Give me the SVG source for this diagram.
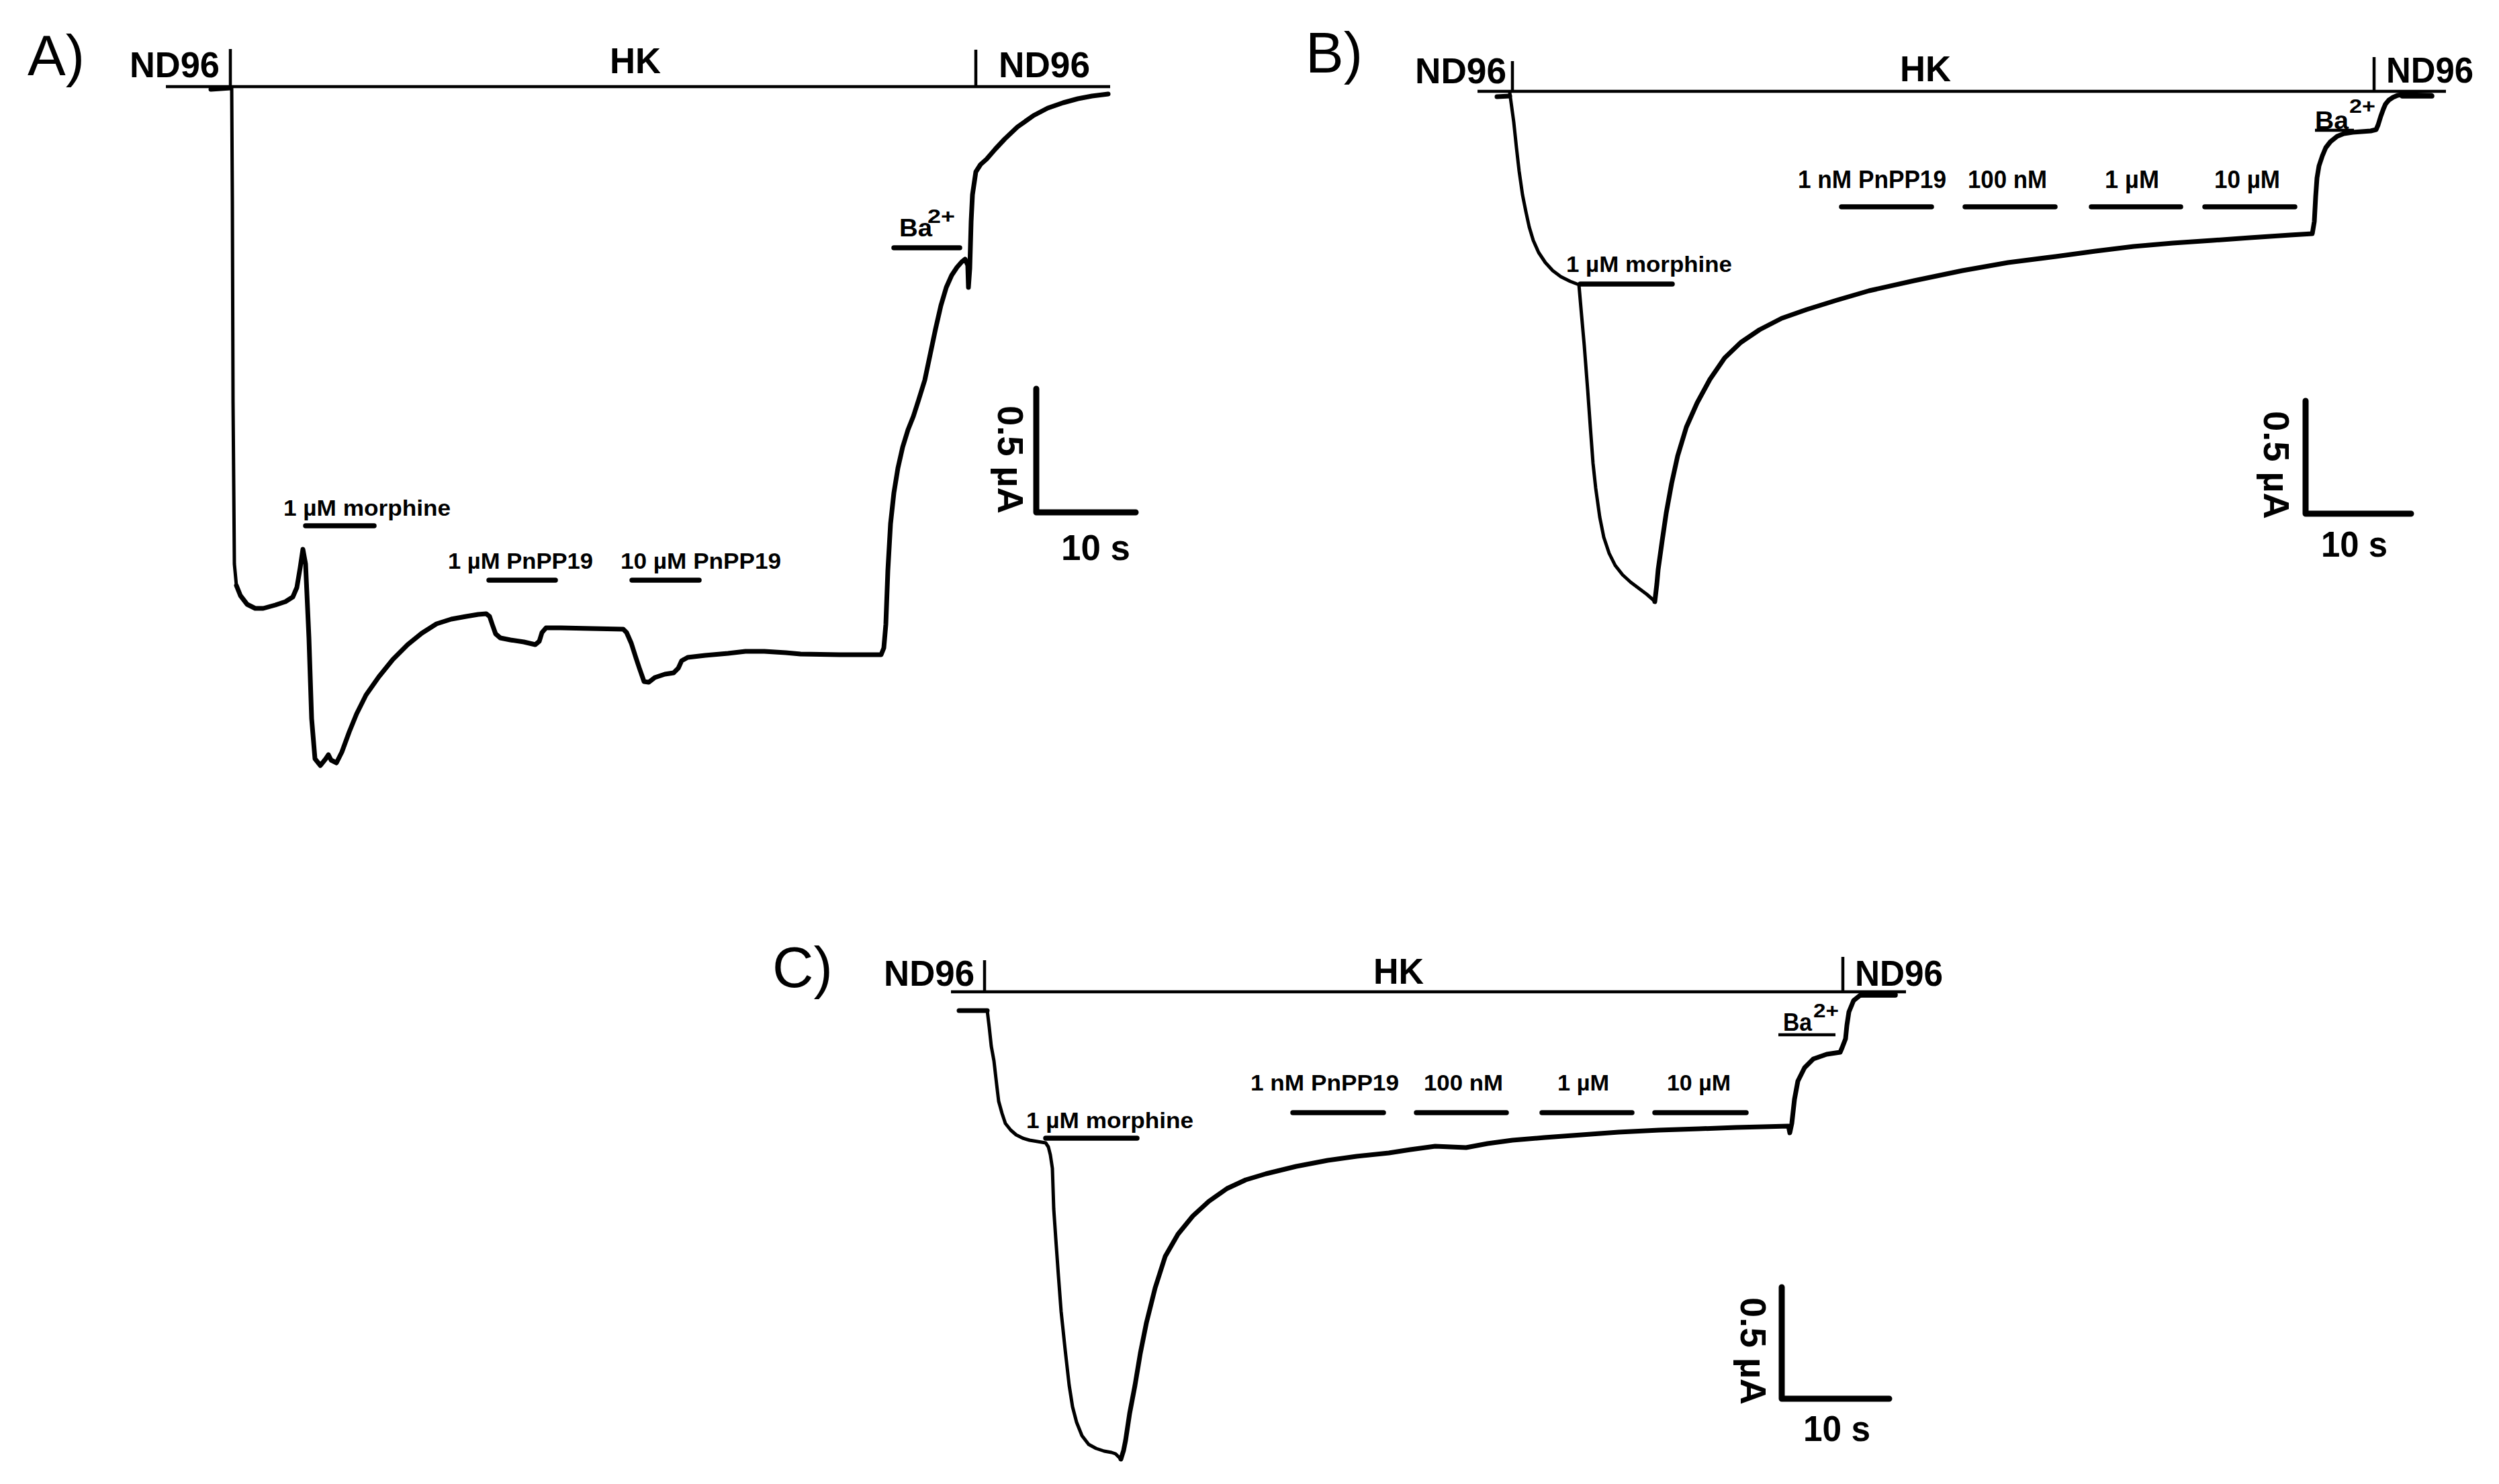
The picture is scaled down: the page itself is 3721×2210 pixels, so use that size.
<svg xmlns="http://www.w3.org/2000/svg" width="3721" height="2210" viewBox="0 0 3721 2210">
<style>
.t{font-family:"Liberation Sans",Arial,sans-serif;font-weight:bold;fill:#000}
.big{font-size:54px}
.sm{font-size:33px}
.smb{font-size:37px}
.ba{font-size:37px}
.sup{font-size:30px}
.pl{font-family:"Liberation Sans",Arial,sans-serif;font-weight:normal;font-size:85px;fill:#000}
.ln{stroke:#000;stroke-width:4.5;fill:none}
.bar{stroke:#000;stroke-width:7.5;stroke-linecap:round;fill:none}
.tr{stroke:#000;fill:none;stroke-width:7;stroke-linejoin:round;stroke-linecap:round}
.thin{stroke:#000;fill:none;stroke-width:5;stroke-linejoin:round;stroke-linecap:round}
.sc{stroke:#000;fill:none;stroke-width:9;stroke-linecap:round;stroke-linejoin:round}
</style>
<rect width="3721" height="2210" fill="#fff"/>

<g id="panelA">
  <text class="pl" x="41" y="112">A)</text>
  <text class="t big" x="193" y="115" textLength="134" lengthAdjust="spacingAndGlyphs">ND96</text>
  <text class="t big" x="908" y="109" textLength="76" lengthAdjust="spacingAndGlyphs">HK</text>
  <text class="t big" x="1487" y="115" textLength="136" lengthAdjust="spacingAndGlyphs">ND96</text>
  <path class="ln" d="M247 129 H1653 M343 73 V129 M1453 74 V129"/>
  <path class="tr" d="M314 133 L343 131"/>
  <path class="thin" d="M345 131 L346 300 L347 600 L349 840 L352 872"/>
  <path class="tr" d="M352 872 L358 887 L368 900 L380 906 L392 906 L410 901 L425 896 L436 889 L442 875 L447 845 L451 818 L455 840 L460 950 L464 1070 L469 1130 L477 1140 L485 1130 L489 1124 L493 1132 L501 1136 L509 1120 L520 1090 L531 1063 L545 1035 L564 1008 L585 982 L607 960 L628 943 L650 929 L672 922 L694 918 L712 915 L724 914 L729 918 L733 930 L738 944 L745 950 L760 953 L780 956 L797 960 L803 955 L807 942 L813 935 L835 935 L880 936 L928 937 L933 942 L940 958 L947 980 L952 995 L959 1015 L966 1016 L975 1009 L990 1004 L1003 1002 L1010 995 L1015 984 L1024 979 L1050 976 L1084 973 L1110 970 L1138 970 L1170 972 L1192 974 L1250 975 L1312 975 L1316 965 L1319 930 L1322 850 L1326 780 L1331 734 L1337 697 L1344 666 L1352 640 L1360 620 L1368 595 L1377 566 L1385 528 L1393 490 L1401 455 L1409 428 L1417 410 L1425 398 L1432 390 L1437 386 L1441 395 L1442 428 L1444 400 L1446 330 L1448 290 L1453 256 L1460 245 L1469 237 L1482 222 L1496 207 L1515 189 L1539 172 L1560 161 L1583 153 L1605 147 L1626 143 L1650 140"/>
  <text class="t sm" x="422" y="768" textLength="249" lengthAdjust="spacingAndGlyphs">1 µM morphine</text>
  <path class="bar" d="M455 783 H557"/>
  <text class="t sm" x="667" y="847" textLength="216" lengthAdjust="spacingAndGlyphs">1 µM PnPP19</text>
  <path class="bar" d="M728 864 H827"/>
  <text class="t sm" x="924" y="847" textLength="239" lengthAdjust="spacingAndGlyphs">10 µM PnPP19</text>
  <path class="bar" d="M941 864 H1041"/>
  <text class="t ba" x="1339" y="352" textLength="49" lengthAdjust="spacingAndGlyphs">Ba</text>
  <text class="t sup" x="1381" y="332" textLength="41" lengthAdjust="spacingAndGlyphs">2+</text>
  <path class="bar" d="M1331 369 H1429"/>
  <path class="sc" d="M1543 579 V763 H1691"/>
  <text class="t big" transform="translate(1486 604) rotate(90)" textLength="161" lengthAdjust="spacingAndGlyphs">0.5 µA</text>
  <text class="t big" x="1580" y="834" textLength="103" lengthAdjust="spacingAndGlyphs">10 s</text>
</g>

<g id="panelB">
  <text class="pl" x="1944" y="108">B)</text>
  <text class="t big" x="2107" y="124" textLength="136" lengthAdjust="spacingAndGlyphs">ND96</text>
  <text class="t big" x="2829" y="121" textLength="76" lengthAdjust="spacingAndGlyphs">HK</text>
  <text class="t big" x="3553" y="123" textLength="130" lengthAdjust="spacingAndGlyphs">ND96</text>
  <path class="ln" d="M2200 136 H3642 M2252 91 V136 M3535 85 V136"/>
  <path class="tr" d="M2229 144 L2248 143"/>
  <path class="thin" d="M2248 138 L2251 160 L2254 182 L2258 220 L2262 255 L2267 290 L2272 315 L2277 338 L2283 358 L2291 376 L2301 391 L2312 403 L2324 412 L2338 419 L2351 424 L2355 470 L2359 515 L2364 580 L2368 636 L2372 690 L2376 727 L2382 770 L2388 800 L2396 824 L2405 842 L2416 856 L2428 867 L2440 876 L2452 885 L2460 892 L2464 896"/>
  <path class="tr" d="M2464 896 L2467 870 L2469 848 L2475 805 L2481 764 L2489 720 L2498 679 L2511 636 L2527 600 L2546 565 L2568 533 L2592 510 L2620 491 L2653 474 L2690 461 L2735 447 L2783 433 L2850 418 L2922 403 L2990 391 L3061 382 L3120 374 L3177 367 L3235 362 L3294 358 L3350 354 L3410 350 L3443 348 L3446 330 L3448 293 L3450 265 L3453 247 L3458 232 L3463 220 L3470 211 L3480 203 L3490 199 L3503 197 L3530 195 L3538 193 L3541 186 L3545 173 L3549 162 L3552 155 L3557 149 L3563 145 L3570 142 L3577 141 L3620 142"/>
  <path class="bar" d="M3577 143 H3621"/>
  <text class="t sm" x="2332" y="405" textLength="247" lengthAdjust="spacingAndGlyphs">1 µM morphine</text>
  <path class="bar" d="M2353 423 H2490"/>
  <text class="t smb" x="2677" y="280" textLength="221" lengthAdjust="spacingAndGlyphs">1 nM PnPP19</text>
  <text class="t smb" x="2930" y="280" textLength="118" lengthAdjust="spacingAndGlyphs">100 nM</text>
  <text class="t smb" x="3134" y="280" textLength="81" lengthAdjust="spacingAndGlyphs">1 µM</text>
  <text class="t smb" x="3297" y="280" textLength="98" lengthAdjust="spacingAndGlyphs">10 µM</text>
  <path class="bar" d="M2742 308 H2876 M2926 308 H3060 M3114 308 H3247 M3283 308 H3417"/>
  <text class="t ba" x="3447" y="192" textLength="50" lengthAdjust="spacingAndGlyphs">Ba</text>
  <text class="t sup" x="3498" y="168" textLength="39" lengthAdjust="spacingAndGlyphs">2+</text>
  <path class="ln" d="M3447 194 H3505"/>
  <path class="sc" d="M3433 597 V765 H3590"/>
  <text class="t big" transform="translate(3371 612) rotate(90)" textLength="161" lengthAdjust="spacingAndGlyphs">0.5 µA</text>
  <text class="t big" x="3456" y="829" textLength="99" lengthAdjust="spacingAndGlyphs">10 s</text>
</g>

<g id="panelC">
  <text class="pl" x="1150" y="1470">C)</text>
  <text class="t big" x="1316" y="1468" textLength="135" lengthAdjust="spacingAndGlyphs">ND96</text>
  <text class="t big" x="2045" y="1465" textLength="75" lengthAdjust="spacingAndGlyphs">HK</text>
  <text class="t big" x="2762" y="1468" textLength="131" lengthAdjust="spacingAndGlyphs">ND96</text>
  <path class="ln" d="M1416 1477 H2838 M1466 1430 V1477 M2744 1425 V1477"/>
  <path class="tr" d="M1428 1505 L1470 1505"/>
  <path class="thin" d="M1470 1505 L1473 1530 L1476 1558 L1480 1580 L1484 1615 L1487 1640 L1492 1658 L1497 1673 L1505 1683 L1513 1690 L1523 1695 L1533 1698 L1545 1700 L1557 1702 L1561 1708 L1564 1720 L1567 1740 L1569 1800 L1572 1844 L1576 1900 L1580 1953 L1586 2010 L1592 2063 L1597 2095 L1603 2118 L1611 2138 L1621 2151 L1632 2157 L1644 2161 L1655 2163 L1661 2165 L1666 2170 L1669 2173"/>
  <path class="tr" d="M1669 2173 L1673 2160 L1676 2145 L1682 2105 L1690 2063 L1698 2015 L1707 1970 L1720 1918 L1735 1871 L1754 1838 L1776 1811 L1800 1789 L1827 1770 L1855 1757 L1885 1748 L1930 1737 L1977 1728 L2020 1722 L2068 1717 L2100 1712 L2137 1707 L2160 1708 L2183 1709 L2215 1703 L2252 1698 L2300 1694 L2355 1690 L2410 1686 L2470 1683 L2530 1681 L2585 1679 L2625 1678 L2663 1677 L2665 1687 L2668 1673 L2672 1637 L2677 1610 L2687 1590 L2700 1577 L2720 1570 L2740 1567 L2743 1560 L2748 1547 L2750 1527 L2753 1507 L2760 1490 L2770 1482 L2787 1479 L2822 1480"/>
  <path class="bar" d="M2772 1482 H2822"/>
  <text class="t sm" x="1528" y="1680" textLength="249" lengthAdjust="spacingAndGlyphs">1 µM morphine</text>
  <path class="bar" d="M1557 1695 H1693"/>
  <text class="t sm" x="1862" y="1624" textLength="221" lengthAdjust="spacingAndGlyphs">1 nM PnPP19</text>
  <text class="t sm" x="2120" y="1624" textLength="118" lengthAdjust="spacingAndGlyphs">100 nM</text>
  <text class="t sm" x="2319" y="1624" textLength="77" lengthAdjust="spacingAndGlyphs">1 µM</text>
  <text class="t sm" x="2482" y="1624" textLength="95" lengthAdjust="spacingAndGlyphs">10 µM</text>
  <path class="bar" d="M1925 1657 H2060 M2109 1657 H2243 M2296 1657 H2430 M2464 1657 H2600"/>
  <text class="t ba" x="2655" y="1535" textLength="43" lengthAdjust="spacingAndGlyphs">Ba</text>
  <text class="t sup" x="2700" y="1515" textLength="38" lengthAdjust="spacingAndGlyphs">2+</text>
  <path class="ln" d="M2648 1541 H2733"/>
  <path class="sc" d="M2653 1917 V2083 H2813"/>
  <text class="t big" transform="translate(2592 1932) rotate(90)" textLength="160" lengthAdjust="spacingAndGlyphs">0.5 µA</text>
  <text class="t big" x="2685" y="2146" textLength="100" lengthAdjust="spacingAndGlyphs">10 s</text>
</g>
</svg>
